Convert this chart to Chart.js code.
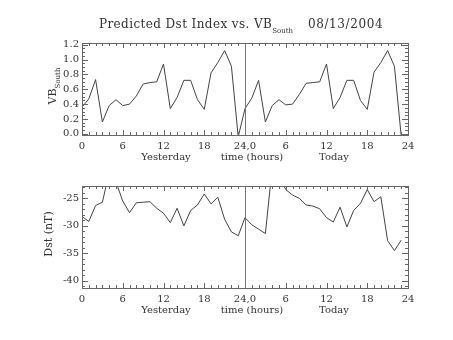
<!DOCTYPE html>
<html>
<head>
<meta charset="utf-8">
<script src="https://cdn.jsdelivr.net/npm/chart.js@4.4.1/dist/chart.umd.min.js"></script>
<style>
  html, body { margin: 0; padding: 0; background: #fff; }
  #wrap { position: relative; width: 453px; height: 340px; }
  #wrap canvas { position: absolute; left: 0; top: 0; }
</style>
</head>
<body>
<div id="wrap">
  <canvas id="vbChart" width="453" height="340"></canvas>
  <canvas id="dstChart" width="453" height="340"></canvas>
</div>
<script>
// hourly samples: 0-23 = yesterday, 24-47 = today
const hours = [0, 1, 2, 3, 4, 5, 6, 7, 8, 9, 10, 11, 12, 13, 14, 15, 16, 17, 18, 19, 20, 21, 22, 23,
               24, 25, 26, 27, 28, 29, 30, 31, 32, 33, 34, 35, 36, 37, 38, 39, 40, 41, 42, 43, 44, 45, 46, 47];

const vbSouth = [0.36, 0.47, 0.73, 0.16, 0.38, 0.46, 0.38, 0.40, 0.51, 0.67, 0.69, 0.70,
                 0.94, 0.34, 0.49, 0.72, 0.72, 0.46, 0.33, 0.82, 0.96, 1.12, 0.91, -0.04,
                 0.34, 0.48, 0.72, 0.16, 0.38, 0.46, 0.39, 0.40, 0.53, 0.68, 0.69, 0.70,
                 0.94, 0.34, 0.49, 0.72, 0.72, 0.45, 0.33, 0.83, 0.96, 1.12, 0.91, -0.03];

const dst = [-28.3, -29.2, -26.3, -25.7, -20.3, -22.0, -25.5, -27.6, -25.8, -25.7, -25.6, -26.8,
             -27.7, -29.4, -26.8, -30.0, -27.2, -26.2, -24.2, -26.0, -24.8, -28.8, -31.1, -31.8,
             -28.5, -29.8, -30.6, -31.4, -19.5, -20.8, -23.4, -24.4, -25.0, -26.2, -26.4, -26.9,
             -28.5, -29.3, -26.6, -30.2, -27.2, -25.9, -23.4, -25.6, -24.7, -32.7, -34.5, -32.6];

const xTicks = [0, 6, 12, 18, 24, 30, 36, 42, 48];
const xTickLabels = ['0', '6', '12', '18', '24,0', '6', '12', '18', '24'];
const vbTicks = [0, 0.2, 0.4, 0.6, 0.8, 1.0, 1.2];
const vbTickLabels = ['0.0', '0.2', '0.4', '0.6', '0.8', '1.0', '1.2'];
const dstTicks = [-40, -35, -30, -25];
const dstTickLabels = ['-40', '-35', '-30', '-25'];
const xTitleParts = ['Yesterday', 'time (hours)', 'Today'];

const SERIF = '"DejaVu Serif", serif';
const INK = '#333';
const AXIS = '#666';

// IDL-style box: inward ticks on all four sides, day divider, titles
const idlFrame = {
  id: 'idlFrame',
  afterDraw(chart, args, opts) {
    const { ctx, chartArea: a, scales: { x, y } } = chart;
    ctx.save();
    ctx.strokeStyle = AXIS;
    ctx.lineWidth = 1;
    ctx.strokeRect(a.left + 0.5, a.top + 0.5, a.right - a.left, a.bottom - a.top);

    ctx.beginPath();
    for (let i = 0; i * opts.xMinor <= x.max + 1e-9; i++) {
      const v = x.min + i * opts.xMinor;
      const px = Math.round(x.getPixelForValue(v)) + 0.5;
      const len = x.ticks.some(t => Math.abs(t.value - v) < 1e-6) ? 5 : 3;
      ctx.moveTo(px, a.bottom); ctx.lineTo(px, a.bottom - len);
      ctx.moveTo(px, a.top); ctx.lineTo(px, a.top + len);
    }
    for (let k = Math.ceil(y.min / opts.yMinor - 1e-9); k * opts.yMinor <= y.max + 1e-9; k++) {
      const v = k * opts.yMinor;
      const py = Math.round(y.getPixelForValue(v)) + 0.5;
      const len = y.ticks.some(t => Math.abs(t.value - v) < 1e-6) ? 6 : 3;
      ctx.moveTo(a.left, py); ctx.lineTo(a.left + len, py);
      ctx.moveTo(a.right, py); ctx.lineTo(a.right - len, py);
    }
    ctx.stroke();

    // yesterday / today divider
    const dx = Math.round(x.getPixelForValue(24)) + 0.5;
    ctx.strokeStyle = '#777';
    ctx.beginPath();
    ctx.moveTo(dx, a.top); ctx.lineTo(dx, a.bottom);
    ctx.stroke();

    // x title pieces
    ctx.fillStyle = INK;
    ctx.font = '10px ' + SERIF;
    ctx.textAlign = 'center';
    ctx.textBaseline = 'middle';
    const ty = a.bottom + 22.5;
    ctx.fillText(xTitleParts[0], 166, ty);
    ctx.fillText(xTitleParts[1], 252, ty);
    ctx.fillText(xTitleParts[2], 334, ty);

    // y title (rotated), optional subscript
    ctx.save();
    ctx.translate(opts.yTitleX, (a.top + a.bottom) / 2 - 3);
    ctx.rotate(-Math.PI / 2);
    ctx.textAlign = 'left';
    ctx.textBaseline = 'alphabetic';
    ctx.font = '11px ' + SERIF;
    const mainW = ctx.measureText(opts.yTitle).width;
    let subW = 0;
    if (opts.yTitleSub) {
      ctx.font = '7px ' + SERIF;
      subW = ctx.measureText(opts.yTitleSub).width;
    }
    const x0 = -(mainW + subW) / 2;
    ctx.font = '11px ' + SERIF;
    ctx.fillText(opts.yTitle, x0, 0);
    if (opts.yTitleSub) {
      ctx.font = '7px ' + SERIF;
      ctx.fillText(opts.yTitleSub, x0 + mainW, 4);
    }
    ctx.restore();

    // main title
    if (opts.mainTitle) {
      ctx.textAlign = 'left';
      ctx.textBaseline = 'alphabetic';
      ctx.font = '12px ' + SERIF;
      ctx.letterSpacing = '0.4px';
      const t1 = 'Predicted Dst Index vs. VB';
      ctx.fillText(t1, 99, 28);
      const w1 = ctx.measureText(t1).width;
      ctx.letterSpacing = '0px';
      ctx.font = '7px ' + SERIF;
      ctx.fillText('South', 99 + w1, 33);
      ctx.font = '12px ' + SERIF;
      ctx.letterSpacing = '0.6px';
      ctx.fillText('08/13/2004', 308, 28);
      ctx.letterSpacing = '0px';
    }
    ctx.restore();
  }
};

function makePlot(canvasId, values, yMin, yMax, yTicks, yTickLabels, plotTop, plotBottom, frame) {
  return new Chart(document.getElementById(canvasId), {
    type: 'line',
    data: {
      datasets: [{
        data: hours.map((h, i) => ({ x: h, y: values[i] })),
        borderColor: '#444',
        borderWidth: 1,
        pointRadius: 0,
        tension: 0,
        fill: false,
        clip: 0
      }]
    },
    options: {
      responsive: false,
      animation: false,
      devicePixelRatio: 1,
      layout: { padding: { left: 0, right: 45, top: plotTop, bottom: 0 } },
      plugins: {
        legend: { display: false },
        tooltip: { enabled: false },
        idlFrame: frame
      },
      scales: {
        x: {
          type: 'linear',
          min: 0,
          max: 48,
          afterBuildTicks: s => { s.ticks = xTicks.map(v => ({ value: v })); },
          afterFit: s => { s.height = 340 - plotBottom; },
          grid: { display: false, drawTicks: false },
          border: { display: false },
          ticks: {
            autoSkip: false,
            maxRotation: 0,
            padding: 5,
            color: INK,
            font: { family: SERIF, size: 10 },
            callback: v => xTickLabels[xTicks.indexOf(v)]
          }
        },
        y: {
          min: yMin,
          max: yMax,
          afterBuildTicks: s => { s.ticks = yTicks.map(v => ({ value: v })); },
          afterFit: s => { s.width = 82; },
          grid: { display: false, drawTicks: false },
          border: { display: false },
          ticks: {
            padding: 3,
            color: INK,
            font: { family: SERIF, size: 10 },
            callback: v => yTickLabels[yTicks.indexOf(v)]
          }
        }
      }
    },
    plugins: [idlFrame]
  });
}

makePlot('vbChart', vbSouth, -0.015, 1.222, vbTicks, vbTickLabels, 43, 135,
  { xMinor: 1, yMinor: 0.05, yTitle: 'VB', yTitleSub: 'South', yTitleX: 56, mainTitle: true });
makePlot('dstChart', dst, -41.3, -22.75, dstTicks, dstTickLabels, 186, 288,
  { xMinor: 1, yMinor: 1, yTitle: 'Dst (nT)', yTitleSub: '', yTitleX: 52, mainTitle: false });
</script>
</body>
</html>
